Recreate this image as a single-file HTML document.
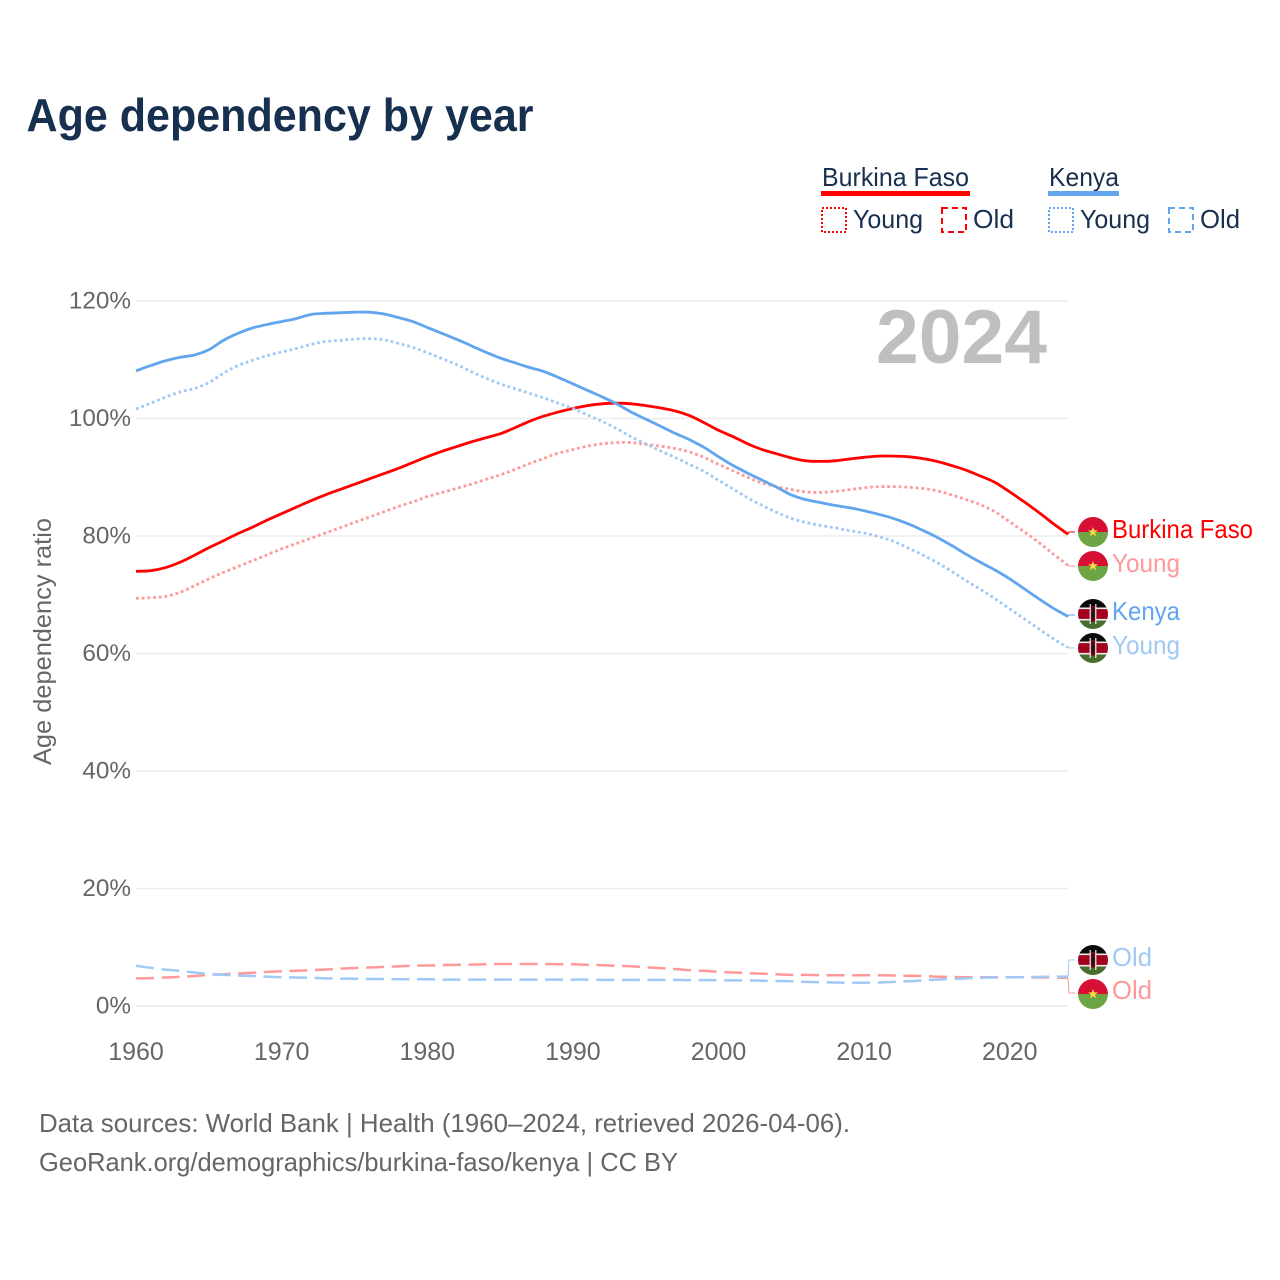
<!DOCTYPE html>
<html lang="en">
<head>
<meta charset="utf-8">
<title>Age dependency by year</title>
<style>
html,body{margin:0;padding:0;background:#fff;}
svg{display:block;font-family:"Liberation Sans",sans-serif;}
</style>
</head>
<body>
<svg id="chart" width="1280" height="1280" viewBox="0 0 1280 1280">
<defs>
<clipPath id="flag-clip"><circle cx="0" cy="0" r="15"/></clipPath>
<g id="flag-bf" clip-path="url(#flag-clip)">
<rect x="-15" y="-15" width="30" height="15" fill="#d80f35"/>
<rect x="-15" y="0" width="30" height="15" fill="#6da544"/>
<polygon points="0,-5 1.3,-1.6 5,-1.6 2,0.6 3.1,4.2 0,2 -3.1,4.2 -2,0.6 -5,-1.6 -1.3,-1.6" fill="#ffda44"/>
</g>
<g id="flag-ke" clip-path="url(#flag-clip)">
<rect x="-15" y="-15" width="30" height="10" fill="#0a0a0a"/>
<rect x="-15" y="-5" width="30" height="10" fill="#a2001d"/>
<rect x="-15" y="5" width="30" height="10" fill="#496e2d"/>
<rect x="-15" y="-6.5" width="30" height="1.6" fill="#f0f0f0"/>
<rect x="-15" y="4.9" width="30" height="1.6" fill="#f0f0f0"/>
<ellipse cx="0" cy="0" rx="4.5" ry="8" fill="#a2001d"/>
<ellipse cx="0" cy="0" rx="1.8" ry="7" fill="#1a1a1a"/>
<rect x="-3.4" y="-10" width="1.2" height="20" fill="#f0f0f0"/>
<rect x="2.2" y="-10" width="1.2" height="20" fill="#f0f0f0"/>
</g>
</defs>

<text x="26.5" y="131" font-size="46" font-weight="700" fill="#17304f" textLength="507" lengthAdjust="spacingAndGlyphs">Age dependency by year</text>

<g font-size="26" fill="#17304f">
<text x="822" y="186" textLength="147" lengthAdjust="spacingAndGlyphs">Burkina Faso</text>
<rect x="821" y="191" width="149" height="5" fill="#ff0000"/>
<rect x="822" y="208" width="24" height="24" fill="none" stroke="#ff0000" stroke-width="2" stroke-dasharray="2 2"/>
<text x="853" y="228" textLength="70" lengthAdjust="spacingAndGlyphs">Young</text>
<rect x="942" y="208" width="24" height="24" fill="none" stroke="#ff0000" stroke-width="2" stroke-dasharray="6 4"/>
<text x="973" y="228" textLength="41" lengthAdjust="spacingAndGlyphs">Old</text>
<text x="1049" y="186" textLength="70" lengthAdjust="spacingAndGlyphs">Kenya</text>
<rect x="1048" y="191" width="71" height="5" fill="#60a5ee"/>
<rect x="1049" y="208" width="24" height="24" fill="none" stroke="#60a5ee" stroke-width="2" stroke-dasharray="2 2"/>
<text x="1080" y="228" textLength="70" lengthAdjust="spacingAndGlyphs">Young</text>
<rect x="1169" y="208" width="24" height="24" fill="none" stroke="#60a5ee" stroke-width="2" stroke-dasharray="6 4"/>
<text x="1200" y="228" textLength="40" lengthAdjust="spacingAndGlyphs">Old</text>
</g>

<g id="grid"></g>
<g id="y-ticks"></g>
<g id="x-ticks"></g>

<text x="0" y="0" transform="translate(51,765) rotate(-90)" font-size="25" fill="#666666" textLength="247" lengthAdjust="spacingAndGlyphs">Age dependency ratio</text>

<text x="876" y="363" font-size="76" font-weight="700" fill="#bfbfbf" textLength="171" lengthAdjust="spacingAndGlyphs">2024</text>

<g id="series"></g>

<g font-size="26">
<use href="#flag-bf" x="1093" y="532"/>
<use href="#flag-bf" x="1093" y="566"/>
<use href="#flag-ke" x="1093" y="614"/>
<use href="#flag-ke" x="1093" y="648"/>
<use href="#flag-ke" x="1093" y="960"/>
<use href="#flag-bf" x="1093" y="994"/>
<text x="1112" y="538" fill="#ff0000" textLength="141" lengthAdjust="spacingAndGlyphs">Burkina Faso</text>
<text x="1112" y="572" fill="#ff9999" textLength="68" lengthAdjust="spacingAndGlyphs">Young</text>
<text x="1112" y="620" fill="#60a5ee" textLength="68" lengthAdjust="spacingAndGlyphs">Kenya</text>
<text x="1112" y="654" fill="#a0c9f5" textLength="68" lengthAdjust="spacingAndGlyphs">Young</text>
<text x="1112" y="966" fill="#a0c9f5" textLength="40" lengthAdjust="spacingAndGlyphs">Old</text>
<text x="1112" y="999" fill="#ff9999" textLength="40" lengthAdjust="spacingAndGlyphs">Old</text>
</g>

<g font-size="26" fill="#666666">
<text x="39" y="1132" textLength="811" lengthAdjust="spacingAndGlyphs">Data sources: World Bank | Health (1960–2024, retrieved 2026-04-06).</text>
<text x="39" y="1171" textLength="639" lengthAdjust="spacingAndGlyphs">GeoRank.org/demographics/burkina-faso/kenya | CC BY</text>
</g>
</svg>

<script>
const startYear = 1960;
const yTickValues = [0, 20, 40, 60, 80, 100, 120];
const xTickValues = [1960, 1970, 1980, 1990, 2000, 2010, 2020];

const burkinaTotal = [74,74.1,74.6,75.5,76.7,78,79.2,80.4,81.5,82.7,
83.8,84.9,86,87,87.9,88.8,89.7,90.6,91.5,92.5,
93.5,94.4,95.2,96,96.7,97.4,98.4,99.5,100.4,101.1,
101.7,102.2,102.5,102.6,102.5,102.2,101.8,101.3,100.5,99.3,
98,96.9,95.7,94.7,94,93.3,92.8,92.7,92.8,93.1,
93.4,93.6,93.6,93.5,93.2,92.7,92,91.2,90.2,89.1,
87.5,85.8,84,82.1,80.3];

const burkinaYoung = [69.4,69.5,69.7,70.4,71.5,72.7,73.8,74.8,75.8,76.8,
77.8,78.7,79.6,80.5,81.4,82.3,83.2,84.1,85,85.8,
86.7,87.4,88.1,88.8,89.6,90.4,91.3,92.3,93.2,94.1,
94.7,95.3,95.7,95.9,95.9,95.6,95.3,94.9,94.3,93.4,
92.2,91.1,90,89,88.4,87.9,87.5,87.4,87.6,87.9,
88.2,88.4,88.4,88.3,88.1,87.7,87,86.2,85.3,84.1,
82.4,80.7,78.9,76.9,75];

const burkinaOld = [4.7,4.75,4.85,4.95,5.1,5.3,5.4,5.55,5.65,5.8,
5.9,6,6.1,6.2,6.35,6.45,6.55,6.65,6.75,6.85,
6.9,6.95,7,7.05,7.1,7.15,7.15,7.15,7.15,7.1,
7.1,7,6.95,6.85,6.75,6.6,6.45,6.3,6.1,6,
5.8,5.7,5.6,5.5,5.4,5.3,5.3,5.25,5.25,5.25,
5.25,5.25,5.2,5.15,5.1,5,4.95,4.9,4.9,4.9,
4.9,4.9,4.85,4.85,4.8];

const kenyaTotal = [108.1,109,109.8,110.4,110.8,111.7,113.3,114.5,115.4,116,
116.5,117,117.7,117.9,118,118.1,118.1,117.8,117.2,116.5,
115.5,114.5,113.5,112.4,111.3,110.3,109.5,108.7,108,107,
105.9,104.8,103.7,102.5,101.1,99.9,98.7,97.5,96.4,95.1,
93.5,92,90.7,89.5,88.3,87,86.2,85.7,85.2,84.8,
84.3,83.7,83,82.1,81,79.8,78.4,76.9,75.5,74.2,
72.7,71,69.3,67.7,66.3];

const kenyaYoung = [101.6,102.6,103.6,104.5,105.1,106.1,107.7,109,109.9,110.7,
111.3,111.9,112.6,113.1,113.3,113.5,113.6,113.4,112.8,112.1,
111.2,110.2,109.2,108,106.9,105.9,105.1,104.3,103.5,102.6,
101.7,100.6,99.5,98.3,96.9,95.7,94.5,93.4,92.2,91,
89.5,88,86.5,85.2,84,83,82.3,81.8,81.4,80.9,
80.5,79.9,79.1,78,76.8,75.5,74,72.4,70.9,69.3,
67.6,65.9,64.2,62.5,61];

const kenyaOld = [6.85,6.5,6.2,6,5.7,5.45,5.3,5.2,5.1,5,
4.9,4.85,4.8,4.7,4.65,4.65,4.6,4.6,4.55,4.55,
4.55,4.5,4.5,4.5,4.5,4.5,4.5,4.5,4.5,4.5,
4.5,4.5,4.45,4.45,4.45,4.45,4.45,4.45,4.4,4.4,
4.4,4.35,4.35,4.3,4.25,4.2,4.1,4.05,4,3.95,
3.95,4,4.1,4.2,4.35,4.5,4.6,4.7,4.8,4.85,
4.9,4.9,4.95,5,5];

const NS = 'http://www.w3.org/2000/svg';
function xScale(year) { return 136 + (year - 1960) * (1068 - 136) / 64; }
function yScale(v) { return 1006 - v * 705 / 120; }

/* Smooth path through every point (Catmull-Rom to cubic Bezier). */
function smoothPath(pts) {
  let d = 'M' + pts[0][0].toFixed(1) + ',' + pts[0][1].toFixed(1);
  for (let i = 0; i < pts.length - 1; i++) {
    const p0 = pts[Math.max(i - 1, 0)];
    const p1 = pts[i];
    const p2 = pts[i + 1];
    const p3 = pts[Math.min(i + 2, pts.length - 1)];
    const c1x = p1[0] + (p2[0] - p0[0]) / 6;
    const c1y = p1[1] + (p2[1] - p0[1]) / 6;
    const c2x = p2[0] - (p3[0] - p1[0]) / 6;
    const c2y = p2[1] - (p3[1] - p1[1]) / 6;
    d += 'C' + c1x.toFixed(1) + ',' + c1y.toFixed(1) + ' ' + c2x.toFixed(1) + ',' + c2y.toFixed(1) + ' ' + p2[0].toFixed(1) + ',' + p2[1].toFixed(1);
  }
  return d;
}

const grid = document.getElementById('grid');
const yTicks = document.getElementById('y-ticks');
yTickValues.forEach(function (v) {
  const l = document.createElementNS(NS, 'line');
  
  
  l.setAttribute('x1', xScale(1960));
  l.setAttribute('x2', xScale(2024));
  l.setAttribute('y1', yScale(v));
  l.setAttribute('y2', yScale(v));
  l.setAttribute('stroke', '#ebebeb');
  l.setAttribute('stroke-width', '1.5');
  grid.appendChild(l);
  const t = document.createElementNS(NS, 'text');
  
  
  t.setAttribute('x', 131);
  t.setAttribute('y', yScale(v) + 7.5);
  t.setAttribute('text-anchor', 'end');
  t.setAttribute('font-size', '24.3');
  t.setAttribute('fill', '#666666');
  t.textContent = v + '%';
  yTicks.appendChild(t);
});

const xTicks = document.getElementById('x-ticks');
xTickValues.forEach(function (yr) {
  const t = document.createElementNS(NS, 'text');
  
  
  t.setAttribute('x', xScale(yr));
  t.setAttribute('y', 1060);
  t.setAttribute('text-anchor', 'middle');
  t.setAttribute('font-size', '25');
  t.setAttribute('fill', '#666666');
  t.textContent = yr;
  xTicks.appendChild(t);
});

const seriesGroup = document.getElementById('series');
function drawLine(name, values, color, width, dash, labelY) {
  const pts = values.map(function (v, i) {
    return [xScale(startYear + i), yScale(v)];
  });
  const p = document.createElementNS(NS, 'path');
  
  
  p.setAttribute('d', smoothPath(pts));
  p.setAttribute('fill', 'none');
  p.setAttribute('stroke', color);
  p.setAttribute('stroke-width', width);
  p.setAttribute('stroke-linejoin', 'round');
  if (dash) p.setAttribute('stroke-dasharray', dash);
  seriesGroup.appendChild(p);
  const lastX = xScale(startYear + values.length - 1);
  const lastY = yScale(values[values.length - 1]);
  const c = document.createElementNS(NS, 'polyline');
  
  
  c.setAttribute('points', lastX + ',' + lastY + ' ' + (lastX + 1) + ',' + labelY + ' ' + (lastX + 7) + ',' + labelY);
  c.setAttribute('fill', 'none');
  c.setAttribute('stroke', color);
  c.setAttribute('stroke-width', '1');
  seriesGroup.appendChild(c);
}

drawLine('burkina-old-line', burkinaOld, '#ff9999', 2.5, '18 7.6', 993);
drawLine('burkina-young-line', burkinaYoung, '#ff9999', 2.8, '2.8 2.9', 566);
drawLine('burkina-total-line', burkinaTotal, '#ff0000', 2.8, '', 532);
drawLine('kenya-old-line', kenyaOld, '#a0c9f5', 2.5, '18 7.6', 960);
drawLine('kenya-young-line', kenyaYoung, '#a0c9f5', 2.8, '2.8 2.9', 648);
drawLine('kenya-total-line', kenyaTotal, '#60a5ee', 2.8, '', 615);
</script>
</body>
</html>
